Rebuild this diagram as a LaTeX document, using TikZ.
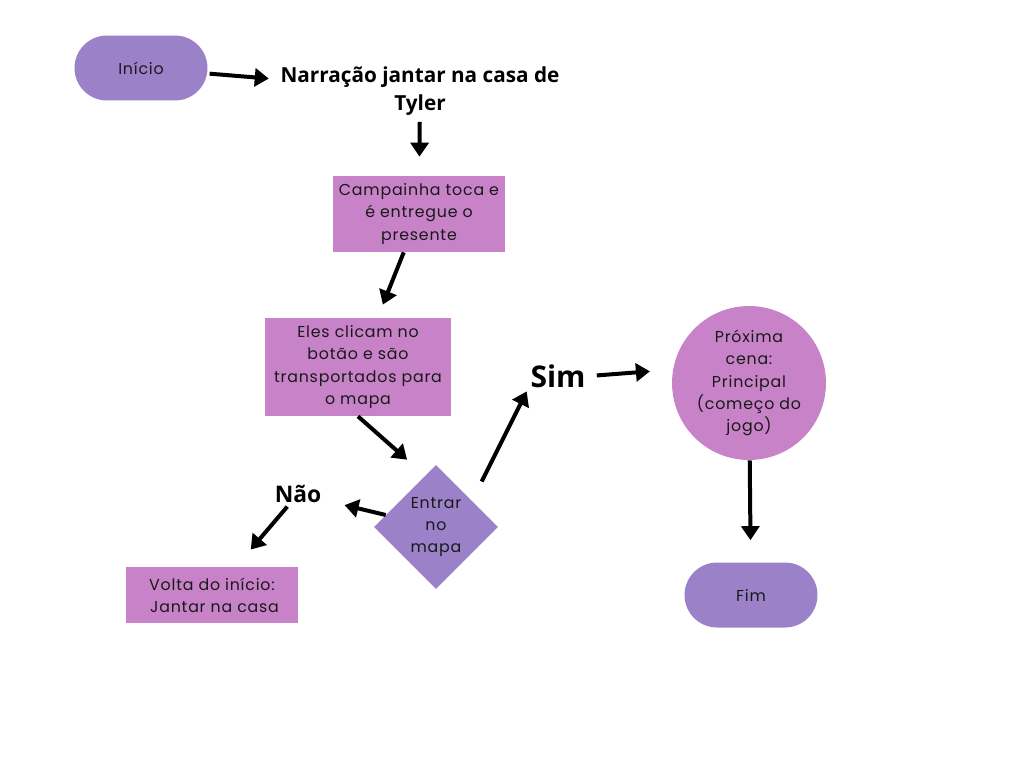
\documentclass[tikz,border=0pt]{standalone}
\usepackage{fontspec}
\usetikzlibrary{shapes.geometric, arrows.meta, positioning}
\newfontfamily\boxfont[LetterSpace=5]{Poppins}
\newfontfamily\headfont{Open Sans}
\definecolor{flowpurple}{RGB}{155, 130, 200}
\definecolor{flowpink}{RGB}{200, 130, 200}
\definecolor{flowtext}{RGB}{25, 25, 25}

\tikzset{
  boxtext/.style={font=\boxfont\fontsize{9}{12.6}\selectfont, text=flowtext, align=center},
  terminal/.style={boxtext, fill=flowpurple, rounded corners=0.65cm,
    minimum width=2.66cm, minimum height=1.3cm},
  process/.style={boxtext, fill=flowpink, inner sep=0pt},
  decision/.style={boxtext, diamond, fill=flowpurple, inner sep=0pt,
    minimum width=2.48cm, minimum height=2.48cm},
  scene/.style={boxtext, circle, fill=flowpink, minimum size=3.08cm, inner sep=0pt},
  headline/.style={font=\headfont\bfseries\fontsize{11.8}{16}\selectfont, align=center, inner sep=2pt},
  flowarrow/.style={-{Triangle[length=0.28cm,width=0.36cm]}, line width=0.08cm}
}

\begin{document}
\begin{tikzpicture}[x=0.02cm, y=-0.02cm]
  \useasboundingbox (0,0) rectangle (1024,768);

  % nodes
  \node[terminal] (inicio) at (141,68) {Início};
  \node[headline] (narracao) at (420,91) {Narração jantar na casa de\\Tyler};
  \node[process, minimum width=3.44cm, minimum height=1.52cm] (campainha) at (419,214)
    {Campainha toca e\\é entregue o\\presente};
  \node[process, minimum width=3.74cm, minimum height=1.96cm] (botao) at (358,367)
    {Eles clicam no\\botão e são\\transportados para\\o mapa};
  \node[decision] (entrar) at (436,527) {Entrar\\no\\mapa};
  \node[headline, font=\headfont\bfseries\fontsize{13}{16}\selectfont] (nao) at (298,494) {Não};
  \node[process, minimum width=3.44cm, minimum height=1.12cm] (volta) at (212,595)
    {Volta do início:\\\ Jantar na casa};
  \node[headline, font=\headfont\bfseries\fontsize{17}{20}\selectfont] (sim) at (558,376) {Sim};
  \node[scene] (proxima) at (749,383) {Próxima\\cena:\\Principal\\(começo do\\jogo)};
  \node[terminal] (fim) at (751,595) {Fim};

  % connectors
  \draw[flowarrow, shorten <=1pt, shorten >=0.16cm] (inicio) -- (narracao);
  \draw[flowarrow, shorten <=0.05cm, shorten >=0.38cm] (narracao) -- (campainha);
  \draw[flowarrow, shorten >=0.28cm] (campainha) -- (botao);
  \draw[flowarrow, shorten >=0.48cm] (botao.south) -- (entrar.102);
  \draw[flowarrow, shorten >=0.4cm] (entrar) -- (nao);
  \draw[flowarrow, shorten >=0.45cm] (nao) -- (volta);
  \draw[flowarrow, shorten <=0.43cm] (entrar.36) -- (sim.south west);
  \draw[flowarrow, shorten <=0.15cm, shorten >=0.46cm] (sim.east) -- (proxima.170);
  \draw[flowarrow, shorten >=0.44cm] (proxima) -- (fim);
\end{tikzpicture}
\end{document}
